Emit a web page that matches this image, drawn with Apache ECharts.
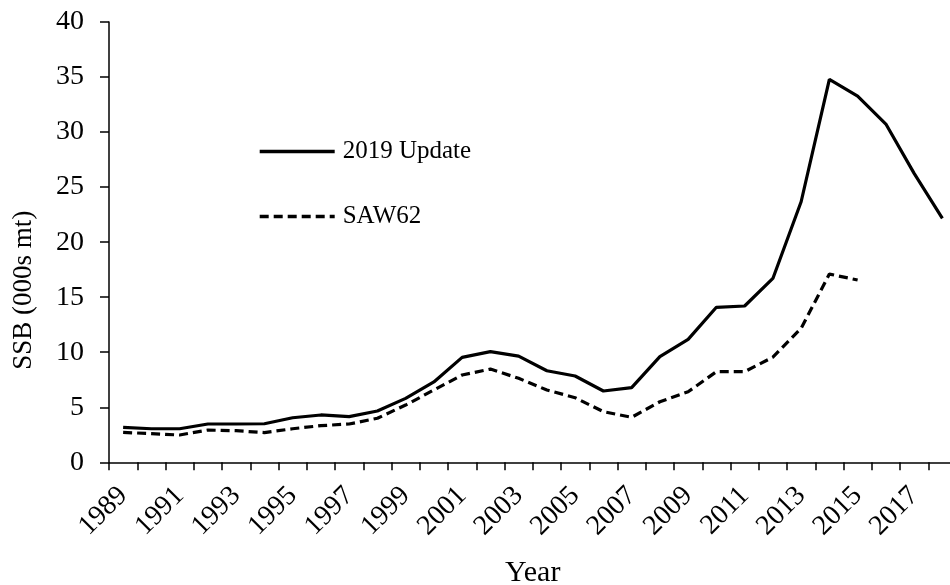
<!DOCTYPE html>
<html>
<head>
<meta charset="utf-8">
<script src="https://cdn.jsdelivr.net/npm/echarts@6/dist/echarts.min.js"></script>
<style>
html,body{margin:0;padding:0;background:#fff;}
#chart{width:950px;height:585px;}
</style>
</head>
<body>
<div id="chart"></div>
<script>
var years = ['1989','1990','1991','1992','1993','1994','1995','1996','1997','1998','1999','2000','2001','2002','2003','2004','2005','2006','2007','2008','2009','2010','2011','2012','2013','2014','2015','2016','2017','2018'];
var update2019 = [3.18,3.05,3.05,3.48,3.48,3.5,4.05,4.3,4.15,4.66,5.81,7.3,9.53,10.05,9.65,8.32,7.84,6.48,6.78,9.6,11.17,14.08,14.2,16.7,23.67,34.78,33.27,30.73,26.25,22.16];
var saw62 = [2.72,2.6,2.48,2.93,2.87,2.7,3.05,3.33,3.48,4.0,5.2,6.57,7.93,8.47,7.63,6.57,5.87,4.6,4.09,5.5,6.41,8.23,8.23,9.55,12.17,17.1,16.56];
var yTicks = {min:0, max:40, interval:5};
var seriesNames = ['2019 Update','SAW62'];

var font = "'Liberation Serif','Times New Roman',serif";
var chart = echarts.init(document.getElementById('chart'));
chart.setOption({
  animation:false,
  backgroundColor:'#fff',
  grid:{left:109, right:-6.5, top:22, bottom:122.7, containLabel:false, outerBoundsMode:'none'},
  legend:{
    orient:'vertical', left:258, top:139, padding:0, itemWidth:75, itemHeight:14, itemGap:40,
    itemStyle:{opacity:0},
    lineStyle:{width:3.4},
    textStyle:{fontFamily:font, fontSize:25, color:'#000', padding:[0,0,0,3]},
    data:seriesNames
  },
  xAxis:{
    type:'category', data:years, boundaryGap:true,
    name:'Year', nameLocation:'middle', nameGap:96,
    nameTextStyle:{fontFamily:font, fontSize:30, color:'#000'},
    axisLine:{lineStyle:{color:'#000', width:1.5}},
    axisTick:{show:true, alignWithLabel:false, interval:0, length:8, lineStyle:{color:'#000', width:1.5}},
    axisLabel:{interval:1, rotate:45, margin:29, fontFamily:font, fontSize:28, color:'#000'},
    splitLine:{show:false}
  },
  yAxis:{
    type:'value', min:yTicks.min, max:yTicks.max, interval:yTicks.interval,
    name:'SSB (000s mt)', nameLocation:'middle', nameGap:72,
    nameTextStyle:{fontFamily:font, fontSize:27, color:'#000', padding:[0,96,0,0]},
    axisLine:{show:true, lineStyle:{color:'#000', width:1.5}},
    axisTick:{show:true, length:9, lineStyle:{color:'#000', width:1.5}},
    axisLabel:{margin:25, fontFamily:font, fontSize:28, color:'#000'},
    splitLine:{show:false}
  },
  series:[
    {name:seriesNames[0], type:'line', data:update2019, symbol:'none', smooth:false,
     lineStyle:{color:'#000', width:3.2, type:'solid'}, itemStyle:{color:'#000'}},
    {name:seriesNames[1], type:'line', data:saw62, symbol:'none', smooth:false,
     lineStyle:{color:'#000', width:3.2, type:[9,5]}, itemStyle:{color:'#000'}}
  ]
});
</script>
</body>
</html>
